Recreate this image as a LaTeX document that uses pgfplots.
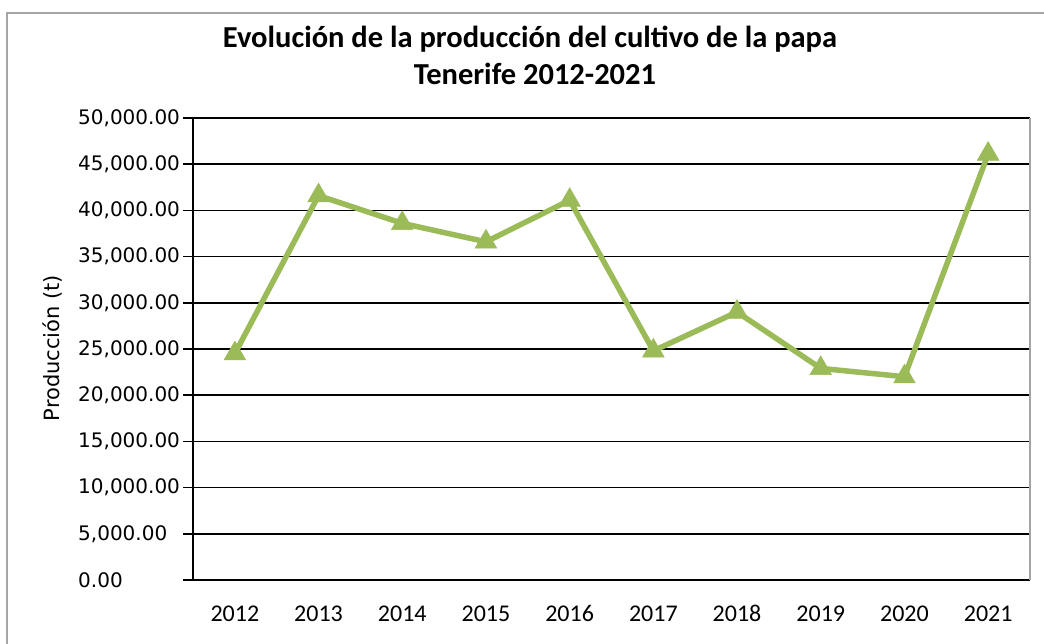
\documentclass[border=0pt]{standalone}
\usepackage{pgfplots}
\pgfplotsset{compat=1.18}
\usepackage{fontspec}
\setmainfont{Carlito}
\newfontfamily\dejavu{DejaVu Sans}
\definecolor{xlgreen}{RGB}{155,187,89}
\definecolor{bordergray}{RGB}{165,165,165}
\begin{document}
\begin{tikzpicture}[x=1pt,y=1pt]
\path[use as bounding box] (0,0) rectangle (1044,644);
\draw[bordergray, line width=1.5pt] (7,-5) -- (7,631) -- (1050,631);
\node[font=\bfseries\fontsize{30.5}{30.5}\selectfont, anchor=base] at (530,596) {Evolución de la producción del cultivo de la papa};
\node[font=\bfseries\fontsize{30.5}{30.5}\selectfont, anchor=base] at (535,559) {Tenerife 2012-2021};
\node[rotate=90, font=\dejavu\fontsize{21}{21}\selectfont] at (52,296) {Producción (t)};
\begin{axis}[
  at={(193pt,64pt)}, anchor=south west, scale only axis,
  width=837pt, height=462pt,
  xmin=0.5, xmax=10.5, ymin=0, ymax=50000,
  axis x line*=bottom, axis y line*=left,
  axis line style={-, black, line width=1.5pt},
  xtick={1,...,10},
  xticklabels={2012,2013,2014,2015,2016,2017,2018,2019,2020,2021},
  minor xtick={0.5,1.5,...,10.5},
  xtick style={draw=none},
  minor x tick style={black, line width=1.5pt},
  ytick={0,5000,...,50000},
  y tick style={black, line width=1.5pt},
  tick align=outside,
  major tick length=10pt, minor tick length=10pt,
  ymajorgrids, major grid style={black, line width=1.5pt},
  xticklabel style={font=\fontsize{24}{24}\selectfont, anchor=base, inner sep=0pt, yshift=-32pt},
  yticklabel style={font=\dejavu\fontsize{20}{20}\selectfont, anchor=west, inner sep=0pt, xshift=-105pt,
    /pgf/number format/.cd, fixed, fixed zerofill, precision=2, 1000 sep={,}, assume math mode=true},
  scaled y ticks=false,
  clip=false,
]
\draw[bordergray, line width=1.5pt] (rel axis cs:1,0) -- (rel axis cs:1,1);
\addplot[xlgreen, line width=5.5pt, mark=triangle*, mark size=12.5pt, mark options={solid, line width=0.5pt, fill=xlgreen}]
coordinates {(1,24500) (2,41600) (3,38600) (4,36600) (5,41100) (6,24800) (7,29000) (8,22900) (9,22000) (10,46100)};
\end{axis}
\end{tikzpicture}
\end{document}
